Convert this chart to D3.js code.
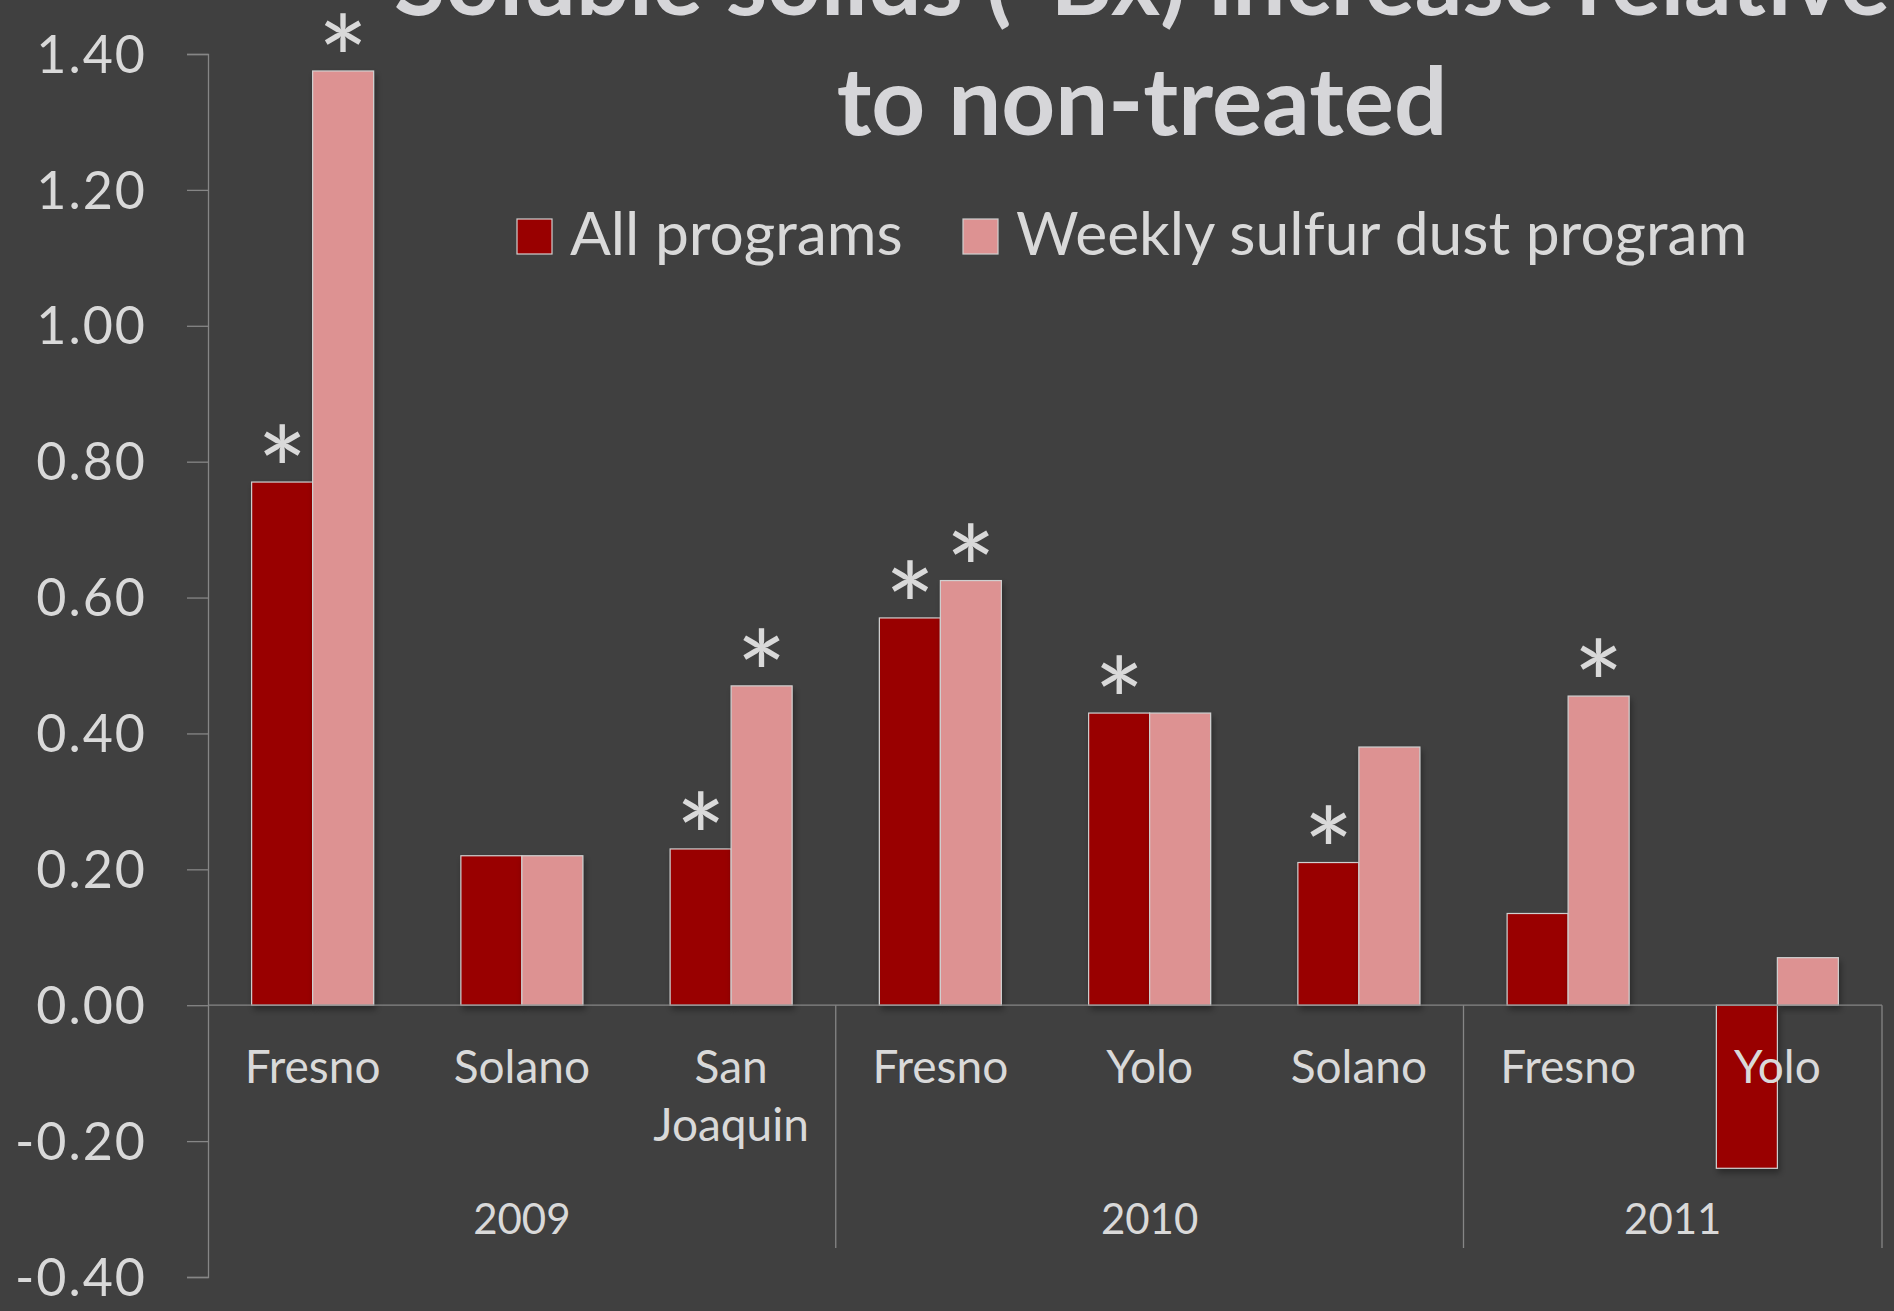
<!DOCTYPE html>
<html>
<head>
<meta charset="utf-8">
<script src="https://cdn.jsdelivr.net/npm/d3@7"></script>
<style>
  html, body { margin: 0; padding: 0; background: #404040; overflow: hidden; }
  svg { display: block; }
</style>
</head>
<body>
<svg id="chart" width="1894" height="1311"></svg>
<script>
// ---------- data ----------
const categories = ["Fresno", "Solano", "San Joaquin", "Fresno", "Yolo", "Solano", "Fresno", "Yolo"];
const years = ["2009", "2010", "2011"];
const yearSpans = [3, 3, 2];
const seriesNames = ["All programs", "Weekly sulfur dust program"];
const allPrograms = [0.77, 0.22, 0.23, 0.57, 0.43, 0.21, 0.135, -0.24];
const weeklySulfur = [1.375, 0.22, 0.47, 0.625, 0.43, 0.38, 0.455, 0.07];
const sigAll = [true, false, true, true, true, true, false, false];
const sigWeekly = [true, false, true, true, false, false, true, false];
const yTicks = [-0.4, -0.2, 0, 0.2, 0.4, 0.6, 0.8, 1.0, 1.2, 1.4];
const titleLines = ["Soluble solids (°Bx) increase relative", "to non-treated"];

// ---------- layout ----------
const W = 1894, H = 1311;
const colors = ["#990000", "#dd9292"];
const textColor = "#d9d9d9";
const axisColor = "#868686";
const font = "Lato, 'Open Sans', sans-serif";

const svg = d3.select("#chart");
svg.append("rect").attr("width", W).attr("height", H).attr("fill", "#404040");

const defs = svg.append("defs");
const f = defs.append("filter").attr("id", "shadow").attr("x", "-20%").attr("y", "-20%").attr("width", "140%").attr("height", "140%");
f.append("feDropShadow").attr("dx", 2).attr("dy", 4).attr("stdDeviation", 3).attr("flood-color", "#000").attr("flood-opacity", 0.35);

const plotLeft = 208, plotRight = 1882;
const y = d3.scaleLinear().domain([-0.4, 1.4]).range([1277, 54]);
const idx = d3.range(categories.length);
const x0 = d3.scaleBand().domain(idx).range([plotLeft, plotRight]).paddingInner(0.417).paddingOuter(0.2085);
const x1 = d3.scaleBand().domain([0, 1]).range([0, x0.bandwidth()]);
const step = x0.step();

// ---------- y axis ----------
const yAxis = d3.axisLeft(y).tickValues(yTicks).tickSize(21).tickPadding(40)
  .tickFormat(v => v.toFixed(2));
const gy = svg.append("g").attr("transform", `translate(${plotLeft},0)`).call(yAxis);
gy.select(".domain").attr("stroke", axisColor).attr("stroke-width", 1.3);
gy.selectAll(".tick line").attr("stroke", axisColor).attr("stroke-width", 1.3);
gy.selectAll(".tick text").attr("fill", textColor).attr("font-family", font)
  .attr("font-size", 52).attr("letter-spacing", 2).attr("dy", "0.35em");

// ---------- bars ----------
const series = [allPrograms, weeklySulfur];
const sigs = [sigAll, sigWeekly];
const gBars = svg.append("g");
series.forEach((vals, s) => {
  gBars.selectAll(null).data(idx).enter().append("rect")
    .attr("x", i => x0(i) + x1(s))
    .attr("width", x1.bandwidth())
    .attr("y", i => y(Math.max(0, vals[i])))
    .attr("height", i => Math.abs(y(vals[i]) - y(0)))
    .attr("fill", colors[s])
    .attr("stroke", "#d0d0d0").attr("stroke-width", 1.2)
    .attr("filter", "url(#shadow)");
});

// ---------- x axis ----------
svg.append("line").attr("x1", plotLeft).attr("x2", plotRight)
  .attr("y1", y(0)).attr("y2", y(0)).attr("stroke", axisColor).attr("stroke-width", 1.3);
let acc = 0;
const sepBottom = 1248;
yearSpans.forEach((n, k) => {
  acc += n;
  const xs = plotLeft + acc * step;
  svg.append("line").attr("x1", xs).attr("x2", xs).attr("y1", y(0)).attr("y2", sepBottom)
    .attr("stroke", axisColor).attr("stroke-width", 1.3);
  const xc = plotLeft + (acc - n / 2) * step;
  svg.append("text").attr("x", xc).attr("y", 1234).attr("text-anchor", "middle")
    .attr("fill", textColor).attr("font-family", font).attr("font-size", 42).text(years[k]);
});

// category labels (wrap two-word)
idx.forEach(i => {
  const words = categories[i].split(" ");
  const t = svg.append("text").attr("text-anchor", "middle").attr("fill", textColor)
    .attr("font-family", font).attr("font-size", 46);
  words.forEach((w, j) => {
    t.append("tspan").attr("x", x0(i) + x0.bandwidth() / 2).attr("y", 1083 + j * 58).text(w);
  });
});

// ---------- significance asterisks ----------
series.forEach((vals, s) => {
  idx.forEach(i => {
    if (!sigs[s][i]) return;
    svg.append("text").attr("x", x0(i) + x1(s) + x1.bandwidth() / 2)
      .attr("y", y(vals[i]) + 33)
      .attr("text-anchor", "middle").attr("fill", textColor)
      .attr("font-family", font).attr("font-size", 120).text("*");
  });
});

// ---------- title ----------
titleLines.forEach((line, j) => {
  svg.append("text").attr("x", 1142).attr("y", 15 + j * 120).attr("text-anchor", "middle")
    .attr("fill", "#d6d6d9").attr("font-family", font).attr("font-weight", "bold")
    .attr("font-size", 94).text(line);
});

// ---------- legend ----------
const legendX = [517, 963];
seriesNames.forEach((name, s) => {
  svg.append("rect").attr("x", legendX[s]).attr("y", 219).attr("width", 35).attr("height", 35)
    .attr("fill", colors[s]).attr("stroke", "#d0d0d0").attr("stroke-width", 1.2);
  svg.append("text").attr("x", legendX[s] + 53).attr("y", 255).attr("fill", textColor)
    .attr("font-family", font).attr("font-size", 60.5).text(name);
});
</script>
</body>
</html>
